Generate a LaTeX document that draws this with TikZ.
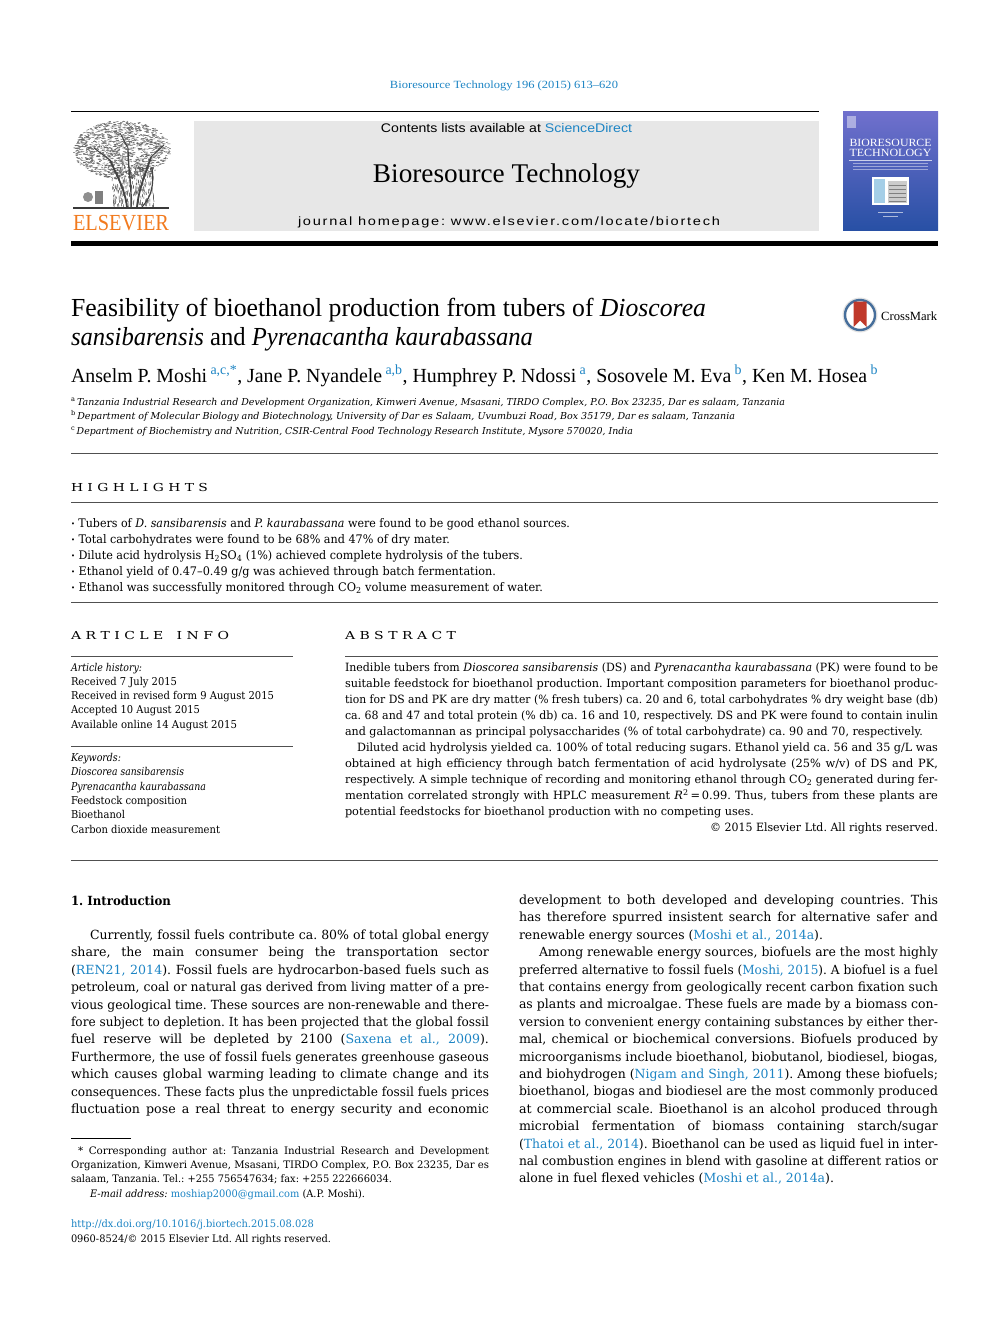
\documentclass[tikz,border=0pt]{standalone}
\usepackage{fontspec}
\setmainfont{DejaVu Serif}
\newfontfamily\tsf{Liberation Serif}
\newfontfamily\hsf{Liberation Sans}
\newfontfamily\hsfls[LetterSpace=12]{Liberation Sans}
\usepackage{graphicx}
\usepackage{xcolor}
\definecolor{lnk}{RGB}{28,132,196}
\definecolor{els}{RGB}{242,122,30}
\definecolor{boxgray}{RGB}{231,231,231}
\definecolor{rulegray}{RGB}{80,80,80}
\definecolor{treeg}{RGB}{95,95,95}
\definecolor{crossred}{RGB}{192,57,43}
\definecolor{ringblue}{RGB}{70,110,155}
\newsavebox\lbox
\newcommand\jl[2]{\sbox\lbox{#2}\ifdim\wd\lbox>#1\relax\resizebox{#1}{\ht\lbox}{\usebox\lbox}\else\makebox[#1][s]{#2}\fi}
\newcommand\fw[2]{\resizebox{#1}{\height}{#2}}
\newcommand\cit[1]{\textcolor{lnk}{#1}}
\newcommand\asup[1]{\textsuperscript{\textcolor{lnk}{#1}}}
\newcommand\bodyf{\fontsize{12.6}{14}\selectfont}
\newcommand\absf{\fontsize{11.4}{13}\selectfont}
\newcommand\infof{\fontsize{10.8}{12}\selectfont}
\newcommand\fnf{\fontsize{10.3}{12}\selectfont}
\newcommand\hlb{\raisebox{0.15ex}{\scalebox{0.6}{\textbullet}}\ }
\frenchspacing
\begin{document}
\begin{tikzpicture}[x=1pt,y=-1pt,
  tx/.style={anchor=base west,inner sep=0pt,outer sep=0pt},
  txc/.style={anchor=base,inner sep=0pt,outer sep=0pt},
  txe/.style={anchor=base east,inner sep=0pt,outer sep=0pt},
  rulethin/.style={draw=rulegray,line width=0.7pt}]
\fill[white] (0,0) rectangle (992,1323);
\useasboundingbox (0,0) rectangle (992,1323);

% ---------------- header
\node[txc] (jref) at (504,88) {\tsf\fontsize{11}{13}\selectfont\color{lnk}\fw{228pt}{Bioresource Technology 196 (2015) 613–620}};
\draw[line width=0.8pt] (71,111) -- (819,111);
\fill[boxgray] (194,121) rectangle (819,231);
\node[txc] (contents) at (506.5,132.5) {\hsf\fontsize{12.5}{14}\selectfont\fw{251pt}{Contents lists available at \textcolor{lnk}{ScienceDirect}}};
\node[txc] (jtitle) at (506.5,182) {\tsf\fontsize{27}{30}\selectfont\fw{267pt}{Bioresource Technology}};
\node[txc] (homepage) at (509,225) {\hsfls\fontsize{12}{14}\selectfont\fw{422pt}{journal homepage: www.elsevier.com/locate/biortech}};
\fill[black] (71,241) rectangle (938,246);

% Elsevier tree logo
\begin{scope}
\pgfmathsetseed{7}
\foreach \i in {1,...,1300}{
  \pgfmathsetmacro\ang{360*rnd}
  \pgfmathsetmacro\rr{sqrt(rnd)}
  \pgfmathsetmacro\px{121+48*\rr*cos(\ang)}
  \pgfmathsetmacro\py{150+29*\rr*sin(\ang)}
  \draw[treeg,line width=0.5pt] (\px,\py) -- ++(1.2+2*rnd,2*rnd-1);
}
\foreach \i in {1,...,250}{
  \pgfmathsetmacro\px{112+42*rnd}
  \pgfmathsetmacro\py{165+40*rnd}
  \draw[treeg!85!black,line width=0.5pt] (\px,\py) -- ++(0.8*rnd-0.4,2+2*rnd);
}
\draw[treeg!70!black,line width=1.8pt] (127,207) .. controls (125,190) and (118,178) .. (110,160);
\draw[treeg!70!black,line width=1.8pt] (137,207) .. controls (139,188) and (145,175) .. (151,157);
\draw[treeg!70!black,line width=1.4pt] (131,207) .. controls (132,185) and (128,170) .. (128,148);
\draw[treeg!70!black,line width=1.2pt] (142,207) .. controls (152,196) and (154,185) .. (152,168);
\draw[treeg!70!black,line width=1pt] (110,160) -- (94,148);
\draw[treeg!70!black,line width=1pt] (151,157) -- (164,145);
\draw[treeg!70!black,line width=0.8pt] (128,148) -- (120,133);
\fill[treeg!70] (88,197) circle (5);
\fill[treeg!80] (95,204) rectangle (103,191);
\draw[treeg!60!black,line width=1.6pt] (73,208) -- (169,208);
\end{scope}
\node[tx] (els) at (73,230) {\tsf\fontsize{23}{25}\selectfont\color{els}\fw{96pt}{ELSEVIER}};

% cover
\shade[top color={rgb,255:red,112;green,112;blue,205},middle color={rgb,255:red,78;green,78;blue,178},bottom color={rgb,255:red,40;green,80;blue,165}] (843,111) rectangle (938,230);
\fill[white,opacity=0.45] (847,116) rectangle (856,128);
\node[txc] (covt1) at (890.5,146) {\tsf\fontsize{11}{12}\selectfont\color{white}\fw{82pt}{BIORESOURCE}};
\node[txc] (covt2) at (890.5,156) {\tsf\fontsize{11}{12}\selectfont\color{white}\fw{82pt}{TECHNOLOGY}};
\draw[white,opacity=0.7,line width=0.4pt] (849,160) -- (932,160);
\foreach \yy in {163,166,169} {\draw[white,opacity=0.45,line width=0.6pt] (853,\yy) -- (928,\yy);}
\fill[white] (872,177) rectangle (909,205);
\fill[lnk!40] (874,179) rectangle (885,203);
\fill[gray!40] (888,181) rectangle (907,203);
\foreach \yy in {185,189,193,197,201} {\draw[gray,line width=0.3pt] (889,\yy) -- (906,\yy);}
\draw[white,opacity=0.6,line width=0.5pt] (878,212) -- (903,212);
\draw[white,opacity=0.6,line width=0.5pt] (883,216) -- (898,216);

% ---------------- title
\node[tx] (title1) at (71,316) {\tsf\fontsize{26}{30}\selectfont\fw{635pt}{Feasibility of bioethanol production from tubers of \textit{Dioscorea}}};
\node[tx] (title2) at (71,345) {\tsf\fontsize{26}{30}\selectfont\fw{462pt}{\textit{sansibarensis} and \textit{Pyrenacantha kaurabassana}}};
% crossmark
\fill[gray!22] (860,315) circle (17.5);
\draw[ringblue,line width=2.4pt] (860,315) circle (15);
\fill[white] (860,315) circle (13.4);
\fill[crossred] (853.5,301.5) -- (866.5,301.5) -- (866.5,327) -- (860,320.5) -- (853.5,327) -- cycle;
\node[anchor=west,inner sep=0pt] (cm) at (881,316) {\tsf\fontsize{12.5}{14}\selectfont\fw{56pt}{CrossMark}};

\node[tx] (authors) at (71,382) {\tsf\fontsize{20}{24}\selectfont\fw{807pt}{Anselm P. Moshi\,\asup{a,c,*}, Jane P. Nyandele\,\asup{a,b}, Humphrey P. Ndossi\,\asup{a}, Sosovele M. Eva\,\asup{b}, Ken M. Hosea\,\asup{b}}};
\node[tx] (affa) at (71,405) {\fontsize{9.5}{11}\selectfont\fw{714pt}{\textsuperscript{a}\,\textit{Tanzania Industrial Research and Development Organization, Kimweri Avenue, Msasani, TIRDO Complex, P.O. Box 23235, Dar es salaam, Tanzania}}};
\node[tx] (affb) at (71,419.5) {\fontsize{9.5}{11}\selectfont\fw{664pt}{\textsuperscript{b}\,\textit{Department of Molecular Biology and Biotechnology, University of Dar es Salaam, Uvumbuzi Road, Box 35179, Dar es salaam, Tanzania}}};
\node[tx] (affc) at (71,434) {\fontsize{9.5}{11}\selectfont\fw{562pt}{\textsuperscript{c}\,\textit{Department of Biochemistry and Nutrition, CSIR-Central Food Technology Research Institute, Mysore 570020, India}}};

% ---------------- highlights
\draw[rulethin] (71,453) -- (938,453);
\node[tx] (hlh) at (71,491) {\fontsize{11}{13}\selectfont\fw{137pt}{H I G H L I G H T S}};
\draw[rulethin] (71,502) -- (938,502);
\node[tx] (hl1) at (71,527) {\fontsize{11.8}{13}\selectfont\fw{499pt}{\hlb Tubers of \textit{D. sansibarensis} and \textit{P. kaurabassana} were found to be good ethanol sources.}};
\node[tx] (hl2) at (71,543) {\fontsize{11.8}{13}\selectfont\fw{379pt}{\hlb Total carbohydrates were found to be 68\% and 47\% of dry mater.}};
\node[tx] (hl3) at (71,559) {\fontsize{11.8}{13}\selectfont\fw{452pt}{\hlb Dilute acid hydrolysis H\textsubscript{2}SO\textsubscript{4} (1\%) achieved complete hydrolysis of the tubers.}};
\node[tx] (hl4) at (71,575) {\fontsize{11.8}{13}\selectfont\fw{425pt}{\hlb Ethanol yield of 0.47–0.49 g/g was achieved through batch fermentation.}};
\node[tx] (hl5) at (71,591) {\fontsize{11.8}{13}\selectfont\fw{472pt}{\hlb Ethanol was successfully monitored through CO\textsubscript{2} volume measurement of water.}};
\draw[rulethin] (71,602) -- (938,602);

% ---------------- article info
\node[tx] (aih) at (71,639) {\fontsize{11}{13}\selectfont\fw{158pt}{A R T I C L E \ \ I N F O}};
\draw[rulethin] (71,656) -- (293,656);
\node[tx] (ai1) at (71,671) {\infof\fw{71pt}{\textit{Article history:}}};
\node[tx] (ai2) at (71,685) {\infof\fw{106pt}{Received 7 July 2015}};
\node[tx] (ai3) at (71,699) {\infof\fw{203pt}{Received in revised form 9 August 2015}};
\node[tx] (ai4) at (71,713) {\infof\fw{129pt}{Accepted 10 August 2015}};
\node[tx] (ai5) at (71,728) {\infof\fw{166pt}{Available online 14 August 2015}};
\draw[rulethin] (71,746) -- (293,746);
\node[tx] (kw0) at (71,761) {\infof\fw{50pt}{\textit{Keywords:}}};
\node[tx] (kw1) at (71,775) {\infof\fw{113pt}{\textit{Dioscorea sansibarensis}}};
\node[tx] (kw2) at (71,790) {\infof\fw{135pt}{\textit{Pyrenacantha kaurabassana}}};
\node[tx] (kw3) at (71,804) {\infof\fw{116pt}{Feedstock composition}};
\node[tx] (kw4) at (71,818) {\infof\fw{54pt}{Bioethanol}};
\node[tx] (kw5) at (71,833) {\infof\fw{149pt}{Carbon dioxide measurement}};

% ---------------- abstract
\node[tx] (abh) at (345,639) {\fontsize{11}{13}\selectfont\fw{111pt}{A B S T R A C T}};
\draw[rulethin] (345,656) -- (938,656);
\node[tx] (ab1) at (345,671) {\absf\jl{593pt}{Inedible tubers from \textit{Dioscorea sansibarensis} (DS) and \textit{Pyrenacantha kaurabassana} (PK) were found to be}};
\node[tx] (ab2) at (345,687) {\absf\jl{593pt}{suitable feedstock for bioethanol production. Important composition parameters for bioethanol produc-}};
\node[tx] (ab3) at (345,703) {\absf\jl{593pt}{tion for DS and PK are dry matter (\% fresh tubers) ca. 20 and 6, total carbohydrates \% dry weight base (db)}};
\node[tx] (ab4) at (345,719) {\absf\jl{593pt}{ca. 68 and 47 and total protein (\% db) ca. 16 and 10, respectively. DS and PK were found to contain inulin}};
\node[tx] (ab5) at (345,735) {\absf\fw{578pt}{and galactomannan as principal polysaccharides (\% of total carbohydrate) ca. 90 and 70, respectively.}};
\node[tx] (ab6) at (357,751) {\absf\jl{581pt}{Diluted acid hydrolysis yielded ca. 100\% of total reducing sugars. Ethanol yield ca. 56 and 35 g/L was}};
\node[tx] (ab7) at (345,767) {\absf\jl{593pt}{obtained at high efficiency through batch fermentation of acid hydrolysate (25\% w/v) of DS and PK,}};
\node[tx] (ab8) at (345,783) {\absf\jl{593pt}{respectively. A simple technique of recording and monitoring ethanol through CO\textsubscript{2} generated during fer-}};
\node[tx] (ab9) at (345,799) {\absf\jl{593pt}{mentation correlated strongly with HPLC measurement \textit{R}\textsuperscript{2}\,=\,0.99. Thus, tubers from these plants are}};
\node[tx] (ab10) at (345,815) {\absf\fw{409pt}{potential feedstocks for bioethanol production with no competing uses.}};
\node[txe] (ab11) at (938,831) {\absf\fw{228pt}{\textcopyright\ 2015 Elsevier Ltd. All rights reserved.}};
\draw[rulethin] (71,860) -- (938,860);

% ---------------- introduction, left column
\node[tx] (introh) at (71,905) {\bfseries\fontsize{12.6}{14}\selectfont\fw{100pt}{1. Introduction}};
\node[tx] (l1) at (90,939.5) {\bodyf\jl{399pt}{Currently, fossil fuels contribute ca. 80\% of total global energy}};
\node[tx] (l2) at (71,956.9) {\bodyf\jl{418pt}{share, the main consumer being the transportation sector}};
\node[tx] (l3) at (71,974.3) {\bodyf\jl{418pt}{(\cit{REN21, 2014}). Fossil fuels are hydrocarbon-based fuels such as}};
\node[tx] (l4) at (71,991.7) {\bodyf\jl{418pt}{petroleum, coal or natural gas derived from living matter of a pre-}};
\node[tx] (l5) at (71,1009.1) {\bodyf\jl{418pt}{vious geological time. These sources are non-renewable and there-}};
\node[tx] (l6) at (71,1026.5) {\bodyf\jl{418pt}{fore subject to depletion. It has been projected that the global fossil}};
\node[tx] (l7) at (71,1043.9) {\bodyf\jl{418pt}{fuel reserve will be depleted by 2100 (\cit{Saxena et al., 2009}).}};
\node[tx] (l8) at (71,1061.3) {\bodyf\jl{418pt}{Furthermore, the use of fossil fuels generates greenhouse gaseous}};
\node[tx] (l9) at (71,1078.7) {\bodyf\jl{418pt}{which causes global warming leading to climate change and its}};
\node[tx] (l10) at (71,1096.1) {\bodyf\jl{418pt}{consequences. These facts plus the unpredictable fossil fuels prices}};
\node[tx] (l11) at (71,1113.5) {\bodyf\jl{418pt}{fluctuation pose a real threat to energy security and economic}};

% footnote
\draw[line width=0.6pt] (71,1138) -- (131,1138);
\node[tx] (fn1) at (78,1154) {\fnf\jl{411pt}{* Corresponding author at: Tanzania Industrial Research and Development}};
\node[tx] (fn2) at (71,1168) {\fnf\jl{418pt}{Organization, Kimweri Avenue, Msasani, TIRDO Complex, P.O. Box 23235, Dar es}};
\node[tx] (fn3) at (71,1182) {\fnf\fw{321pt}{salaam, Tanzania. Tel.: +255 756547634; fax: +255 222666034.}};
\node[tx] (fn4) at (90,1197) {\fnf\fw{275pt}{\textit{E-mail address:} \textcolor{lnk}{moshiap2000@gmail.com} (A.P. Moshi).}};
\node[tx] (doi) at (71,1227) {\fnf\fw{243pt}{\textcolor{lnk}{http://dx.doi.org/10.1016/j.biortech.2015.08.028}}};
\node[tx] (issn) at (71,1242) {\fnf\fw{260pt}{0960-8524/\textcopyright\ 2015 Elsevier Ltd. All rights reserved.}};

% ---------------- right column
\node[tx] (r1) at (519,904.5) {\bodyf\jl{419pt}{development to both developed and developing countries. This}};
\node[tx] (r2) at (519,921.9) {\bodyf\jl{419pt}{has therefore spurred insistent search for alternative safer and}};
\node[tx] (r3) at (519,939.3) {\bodyf\fw{304pt}{renewable energy sources (\cit{Moshi et al., 2014a}).}};
\node[tx] (r4) at (539,956.7) {\bodyf\jl{399pt}{Among renewable energy sources, biofuels are the most highly}};
\node[tx] (r5) at (519,974.1) {\bodyf\jl{419pt}{preferred alternative to fossil fuels (\cit{Moshi, 2015}). A biofuel is a fuel}};
\node[tx] (r6) at (519,991.5) {\bodyf\jl{419pt}{that contains energy from geologically recent carbon fixation such}};
\node[tx] (r7) at (519,1008.9) {\bodyf\jl{419pt}{as plants and microalgae. These fuels are made by a biomass con-}};
\node[tx] (r8) at (519,1026.3) {\bodyf\jl{419pt}{version to convenient energy containing substances by either ther-}};
\node[tx] (r9) at (519,1043.7) {\bodyf\jl{419pt}{mal, chemical or biochemical conversions. Biofuels produced by}};
\node[tx] (r10) at (519,1061.1) {\bodyf\jl{419pt}{microorganisms include bioethanol, biobutanol, biodiesel, biogas,}};
\node[tx] (r11) at (519,1078.5) {\bodyf\jl{419pt}{and biohydrogen (\cit{Nigam and Singh, 2011}). Among these biofuels;}};
\node[tx] (r12) at (519,1095.9) {\bodyf\jl{419pt}{bioethanol, biogas and biodiesel are the most commonly produced}};
\node[tx] (r13) at (519,1113.3) {\bodyf\jl{419pt}{at commercial scale. Bioethanol is an alcohol produced through}};
\node[tx] (r14) at (519,1130.7) {\bodyf\jl{419pt}{microbial fermentation of biomass containing starch/sugar}};
\node[tx] (r15) at (519,1148.1) {\bodyf\jl{419pt}{(\cit{Thatoi et al., 2014}). Bioethanol can be used as liquid fuel in inter-}};
\node[tx] (r16) at (519,1165.5) {\bodyf\jl{419pt}{nal combustion engines in blend with gasoline at different ratios or}};
\node[tx] (r17) at (519,1182.9) {\bodyf\fw{315pt}{alone in fuel flexed vehicles (\cit{Moshi et al., 2014a}).}};
\end{tikzpicture}
\end{document}
